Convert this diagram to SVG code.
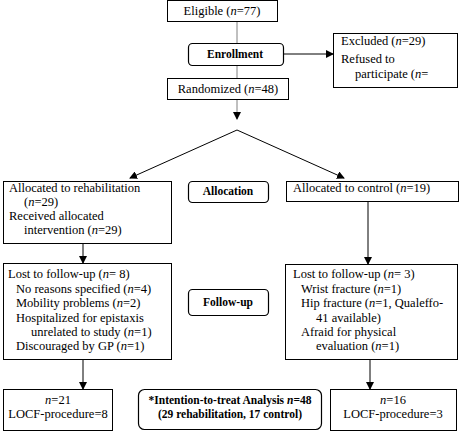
<svg xmlns="http://www.w3.org/2000/svg" width="459" height="431" viewBox="0 0 459 431">
<defs>
<marker id="ah" markerWidth="8" markerHeight="8" refX="7" refY="4" orient="auto" markerUnits="userSpaceOnUse">
<path d="M0,0 L8,4 L0,8 z" fill="#000"/>
</marker>
<style>
.box{fill:#fff;stroke:#000;stroke-width:1}
.rbox{fill:#fff;stroke:#000;stroke-width:1.2}
.t{font-family:"Liberation Serif","Times New Roman",serif;font-size:12.5px;fill:#000}
.b{font-family:"Liberation Serif","Times New Roman",serif;font-size:11.5px;font-weight:bold;fill:#000}
.c{text-anchor:middle}
.ln{stroke:#000;stroke-width:1;fill:none}
</style>
</defs>
<rect width="459" height="431" fill="#fff"/>
<g id="connectors">
<line class="ln" x1="237" y1="21" x2="237" y2="119" stroke="#808080" style="stroke:#808080" marker-end="url(#ah)"/>
<line class="ln" x1="283" y1="54" x2="333" y2="54" marker-end="url(#ah)"/>
<line class="ln" x1="237" y1="130" x2="130" y2="178" marker-end="url(#ah)"/>
<line class="ln" x1="237" y1="130" x2="344" y2="178" marker-end="url(#ah)"/>
<line class="ln" x1="83" y1="243" x2="83" y2="263" marker-end="url(#ah)"/>
<line class="ln" x1="368" y1="201" x2="368" y2="264" marker-end="url(#ah)"/>
<line class="ln" x1="83" y1="360" x2="83" y2="389" marker-end="url(#ah)"/>
<line class="ln" x1="370" y1="360" x2="370" y2="389" marker-end="url(#ah)"/>
</g>
<g id="eligible">
<rect class="box" x="167.5" y="0.5" width="110" height="21"/>
<text class="t c" x="222" y="15">Eligible (<tspan font-style="italic">n</tspan>=77)</text>
</g>
<g id="enrollment">
<rect class="rbox" x="188.5" y="43.5" width="95" height="22" rx="4"/>
<text class="b c" x="235" y="58">Enrollment</text>
</g>
<g id="excluded">
<rect class="box" x="333.5" y="33.5" width="124" height="54"/>
<text class="t" x="341" y="45">Excluded (<tspan font-style="italic">n</tspan>=29)</text>
<text class="t" x="341" y="63">Refused to</text>
<text class="t" x="355" y="78">participate (<tspan font-style="italic">n</tspan>=</text>
</g>
<g id="randomized">
<rect class="box" x="167.5" y="78.5" width="121" height="21"/>
<text class="t c" x="228" y="93">Randomized (<tspan font-style="italic">n</tspan>=48)</text>
</g>
<g id="rehab">
<rect class="box" x="3.5" y="181.5" width="168" height="62"/>
<text class="t" x="9" y="192">Allocated to rehabilitation</text>
<text class="t" x="24" y="206">(<tspan font-style="italic">n</tspan>=29)</text>
<text class="t" x="9" y="220">Received allocated</text>
<text class="t" x="24" y="234">intervention (<tspan font-style="italic">n</tspan>=29)</text>
</g>
<g id="allocation">
<rect class="rbox" x="188.5" y="181.5" width="80" height="21" rx="4"/>
<text class="b c" x="228" y="195">Allocation</text>
</g>
<g id="control">
<rect class="box" x="286.5" y="181.5" width="172" height="20"/>
<text class="t" x="293" y="192">Allocated to control (<tspan font-style="italic">n</tspan>=19)</text>
</g>
<g id="lost-left">
<rect class="box" x="3.5" y="263.5" width="168" height="96"/>
<text class="t" x="8" y="278">Lost to follow-up (<tspan font-style="italic">n</tspan>= 8)</text>
<text class="t" x="16" y="293">No reasons specified (<tspan font-style="italic">n</tspan>=4)</text>
<text class="t" x="16" y="307">Mobility problems (<tspan font-style="italic">n</tspan>=2)</text>
<text class="t" x="16" y="322">Hospitalized for epistaxis</text>
<text class="t" x="31" y="336">unrelated to study (<tspan font-style="italic">n</tspan>=1)</text>
<text class="t" x="16" y="350">Discouraged by GP (<tspan font-style="italic">n</tspan>=1)</text>
</g>
<g id="followup">
<rect class="rbox" x="188.5" y="289.5" width="80" height="26" rx="4"/>
<text class="b c" x="228" y="306">Follow-up</text>
</g>
<g id="lost-right">
<rect class="box" x="285.5" y="264.5" width="172" height="95"/>
<text class="t" x="293" y="278">Lost to follow-up (<tspan font-style="italic">n</tspan>= 3)</text>
<text class="t" x="301" y="293">Wrist fracture (<tspan font-style="italic">n</tspan>=1)</text>
<text class="t" x="301" y="307">Hip fracture (<tspan font-style="italic">n</tspan>=1, Qualeffo-</text>
<text class="t" x="316" y="322">41 available)</text>
<text class="t" x="301" y="336">Afraid for physical</text>
<text class="t" x="316" y="350">evaluation (<tspan font-style="italic">n</tspan>=1)</text>
</g>
<g id="result-left">
<rect class="box" x="3.5" y="389.5" width="109" height="41"/>
<text class="t c" x="58" y="404"><tspan font-style="italic">n</tspan>=21</text>
<text class="t c" x="58" y="418">LOCF-procedure=8</text>
</g>
<g id="itt">
<rect class="rbox" x="138.5" y="389.5" width="183" height="40" rx="6"/>
<text class="b c" x="230" y="404">*Intention-to-treat Analysis <tspan font-style="italic">n</tspan>=48</text>
<text class="b c" x="230" y="418">(29 rehabilitation, 17 control)</text>
</g>
<g id="result-right">
<rect class="box" x="330.5" y="389.5" width="126" height="41"/>
<text class="t c" x="393" y="404"><tspan font-style="italic">n</tspan>=16</text>
<text class="t c" x="393" y="418">LOCF-procedure=3</text>
</g>
</svg>
